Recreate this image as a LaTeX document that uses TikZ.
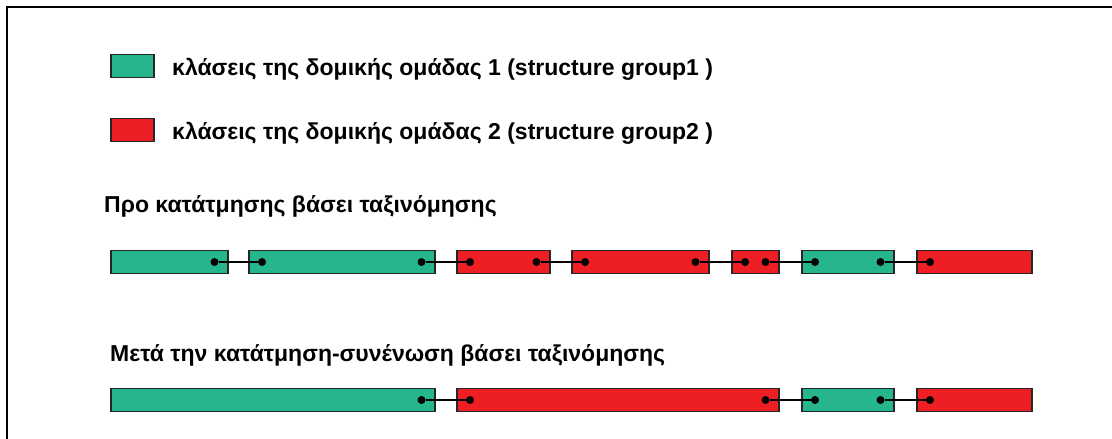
\documentclass[tikz,border=0pt]{standalone}
\usepackage{fontspec}
\setmainfont{Liberation Sans}

\definecolor{grpun}{RGB}{38,181,141}
\definecolor{grpdeux}{RGB}{237,30,36}

\begin{document}
\begin{tikzpicture}[x=1pt, y=-1pt, font=\bfseries\fontsize{23}{27}\selectfont]
        \tikzstyle{bloc}=[draw=black!85, line width=1.5pt, minimum height=23pt, inner sep=0, anchor=west];
        \tikzstyle{g1}=[bloc, fill=grpun];
        \tikzstyle{g2}=[bloc, fill=grpdeux];
        \tikzstyle{point}=[circle, fill=black, minimum size=8pt, inner sep=0];
        \tikzstyle{lien}=[line width=2pt];
        \tikzstyle{texte}=[anchor=base west, inner sep=0];

        \useasboundingbox (0,0) rectangle (1112,439);
        \draw[line width=2.5pt] (1112,7) -- (7,7) -- (7,439);

        % legende
        \node[g1, minimum width=43pt] (leg1) at (110,66) {};
        \node[texte] (txt1) at (172,75) {κλάσεις της δομικής ομάδας 1 (structure group1 )};
        \node[g2, minimum width=43pt] (leg2) at (110,130) {};
        \node[texte] (txt2) at (172,139) {κλάσεις της δομικής ομάδας 2 (structure group2 )};

        % avant
        \node[texte] (titre1) at (104,212) {Προ κατάτμησης βάσει ταξινόμησης};
        \foreach \n/\a/\b/\s in {1/110/227/g1, 2/248/434/g1, 3/456/549/g2, 4/571/708/g2, 5/731/778/g2, 6/801/893/g1, 7/916/1031/g2}{
          \pgfmathsetmacro{\w}{\b-\a}
          \node[\s, minimum width=\w pt] (a\n) at (\a,262) {};
        }
        \foreach \i [evaluate=\i as \j using int(\i+1)] in {1,...,6}{
          \node[point] (ad\i) at ([xshift=-14pt]a\i.east) {};
          \node[point] (ag\j) at ([xshift=14pt]a\j.west) {};
          \draw[lien] (ad\i) -- (ag\j);
        }

        % apres
        \node[texte] (titre2) at (110,361) {Μετά την κατάτμηση-συνένωση βάσει ταξινόμησης};
        \foreach \n/\a/\b/\s in {1/110/434/g1, 2/456/778/g2, 3/801/893/g1, 4/916/1031/g2}{
          \pgfmathsetmacro{\w}{\b-\a}
          \node[\s, minimum width=\w pt] (b\n) at (\a,400) {};
        }
        \foreach \i [evaluate=\i as \j using int(\i+1)] in {1,...,3}{
          \node[point] (bd\i) at ([xshift=-14pt]b\i.east) {};
          \node[point] (bg\j) at ([xshift=14pt]b\j.west) {};
          \draw[lien] (bd\i) -- (bg\j);
        }
    \end{tikzpicture}
\end{document}
